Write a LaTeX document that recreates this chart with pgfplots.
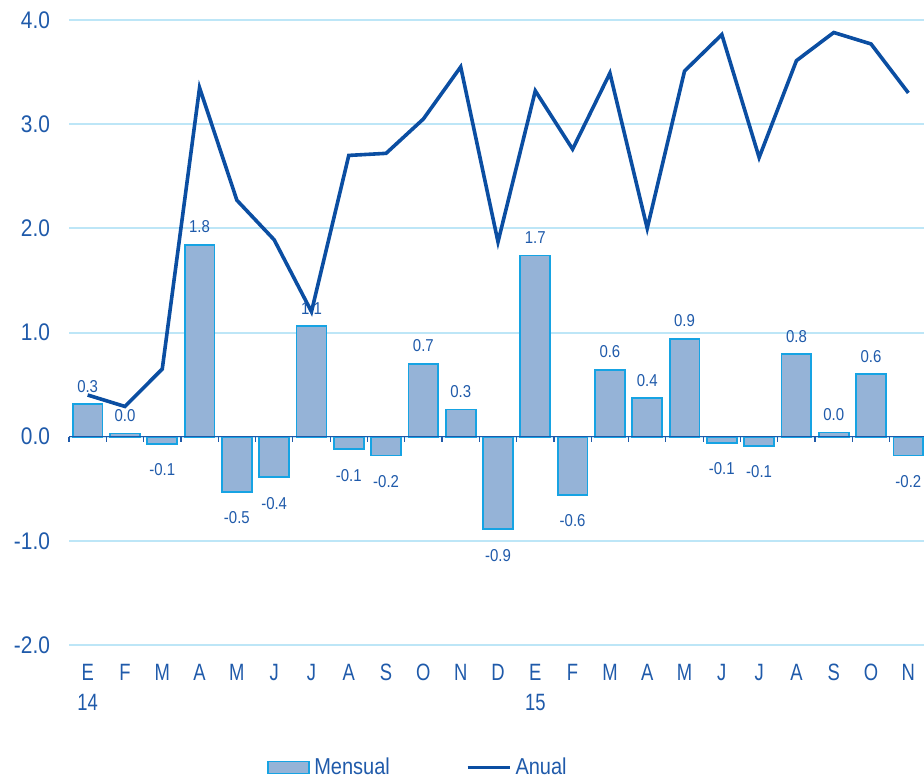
\documentclass[border=0pt]{standalone}
\usepackage{fontspec}
\setmainfont{Liberation Sans}[FakeStretch=0.87]
\newfontfamily\monthfont{Liberation Sans}[FakeStretch=0.78]
\usepackage{pgfplots}
\usepackage{pgfplotstable}
\pgfplotsset{compat=1.18}

\definecolor{txtblue}{RGB}{31,90,170}
\definecolor{lineblue}{RGB}{11,78,162}
\definecolor{barfill}{RGB}{149,179,215}
\definecolor{baredge}{RGB}{22,163,227}
\definecolor{gridblue}{RGB}{189,230,247}

% monthly and annual change, January 2014 to November 2015
\pgfplotstableread{
x  mensual anual
0   0.31   0.40
1   0.03   0.29
2  -0.07   0.65
3   1.84   3.35
4  -0.53   2.27
5  -0.39   1.89
6   1.06   1.20
7  -0.12   2.70
8  -0.18   2.72
9   0.70   3.05
10  0.26   3.55
11 -0.89   1.87
12  1.74   3.32
13 -0.56   2.76
14  0.64   3.49
15  0.37   2.00
16  0.94   3.51
17 -0.06   3.86
18 -0.09   2.68
19  0.79   3.61
20  0.04   3.88
21  0.60   3.77
22 -0.18   3.30
}\datatable

\begin{document}
\begin{tikzpicture}
\begin{axis}[
  at={(34.5pt,66.5pt)}, anchor=south west,
  scale only axis,
  width=429pt, height=312.5pt,
  xmin=-0.5, xmax=22.5,
  ymin=-2, ymax=4,
  ytick={-2,-1,0,1,2,3,4},
  xtick={0,...,22},
  xticklabels={E\\14,F,M,A,M,J,J,A,S,O,N,D,E\\15,F,M,A,M,J,J,A,S,O,N},
  xticklabel style={align=center, font=\monthfont\fontsize{11.8}{15}\selectfont,
    text=txtblue, yshift=-6pt},
  yticklabel style={font=\fontsize{12}{14}\selectfont, text=txtblue, xshift=-6pt},
  /pgf/number format/assume math mode=true,
  yticklabel={\pgfmathprintnumber[fixed,precision=1,zerofill]{\tick}},
  major tick length=0pt,
  axis line style={draw=none},
  ymajorgrids,
  grid style={gridblue, line width=1pt},
  clip=false,
  legend style={draw=none, fill=none, legend columns=2,
    at={(axis description cs:0.408,-0.196)}, anchor=center,
    font=\fontsize{11.5}{13}\selectfont, text=txtblue,
    /tikz/every even column/.append style={column sep=36pt}},
  legend cell align=left,
]
\addplot[ybar, bar width=0.8, fill=barfill, draw=baredge, line width=0.9pt,
  nodes near coords={\pgfmathprintnumber[fixed,precision=1,zerofill,assume math mode=true]{\pgfplotspointmeta}},
  visualization depends on={y \as \rawy},
  every node near coord/.append style={font=\fontsize{8.6}{10}\selectfont, text=txtblue,
    inner ysep=5.5pt, yshift={(\rawy<0)*(-4)}},
  legend image code/.code={\draw[fill=barfill, draw=baredge, line width=0.9pt] (0pt,-3pt) rectangle (20.5pt,3pt);}
] table[x=x, y=mensual] {\datatable};
\addlegendentry{Mensual}

% zero line with ticks between the months
\draw[txtblue, line width=0.8pt] (axis cs:-0.5,0) -- (axis cs:22.5,0);
\pgfplotsinvokeforeach{0,...,23}{
  \draw[txtblue, line width=0.6pt] (axis cs:#1-0.5,0) -- ([yshift=-2.5pt]axis cs:#1-0.5,0);
}

\addplot[lineblue, line width=1.8pt, mark=none,
  legend image code/.code={\draw[lineblue, line width=1.8pt] (0pt,0pt) -- (21pt,0pt);}
] table[x=x, y=anual] {\datatable};
\addlegendentry{Anual}
\end{axis}
\pgfresetboundingbox
\useasboundingbox (0,0) rectangle (462pt,389pt);
\end{tikzpicture}
\end{document}
